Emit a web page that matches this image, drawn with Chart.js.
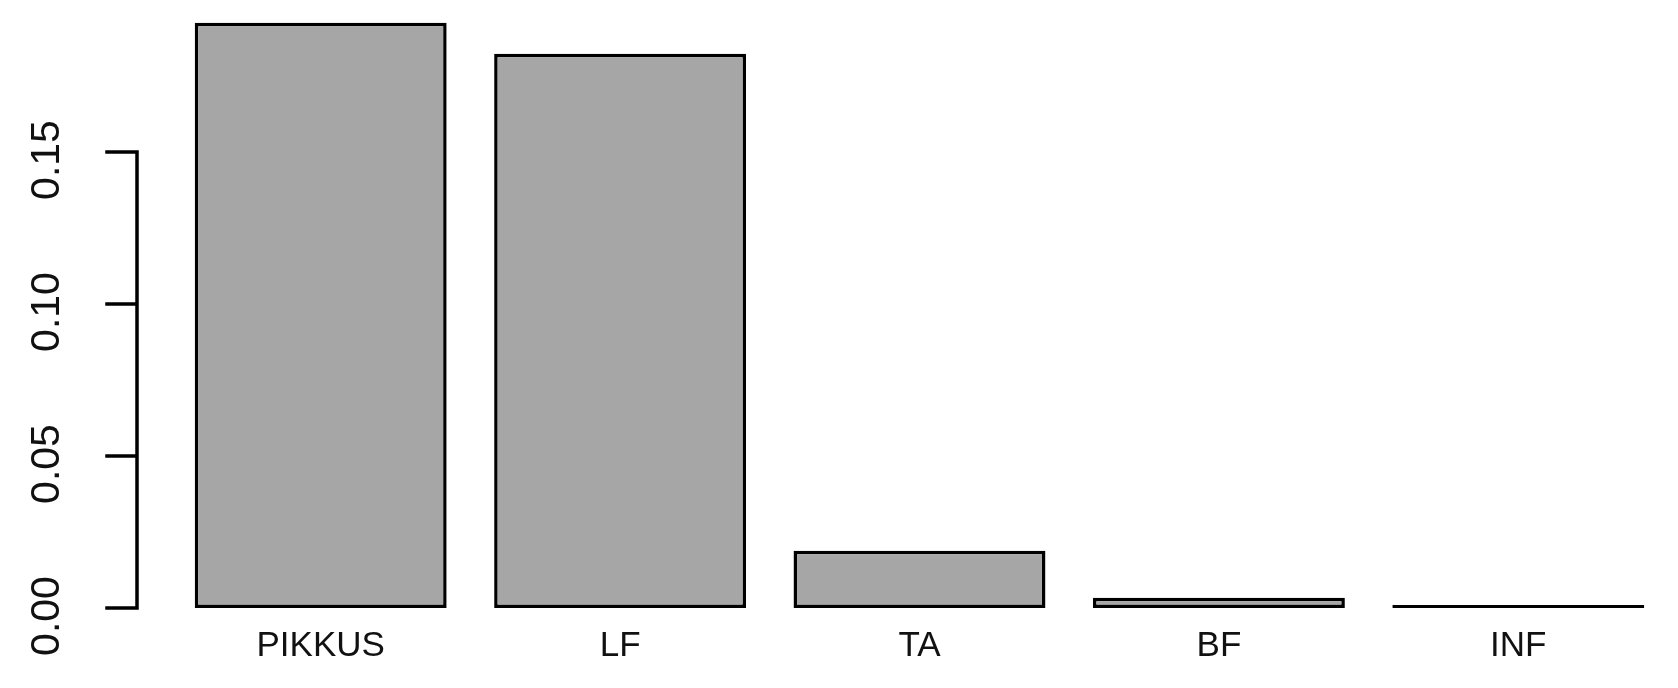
<!DOCTYPE html>
<html>
<head>
<meta charset="utf-8">
<title>Bar chart</title>
<script src="https://cdn.jsdelivr.net/npm/chart.js@4/dist/chart.umd.min.js"></script>
<style>
  html, body { margin: 0; padding: 0; background: #fff; }
  #chart { display: block; }
</style>
</head>
<body>
<canvas id="chart" width="1678" height="688"></canvas>
<script>
// Data
const categories = ['PIKKUS', 'LF', 'TA', 'BF', 'INF'];
const values = [0.1925, 0.1823, 0.0188, 0.0034, 0];
const yTicks = [0, 0.05, 0.10, 0.15];
const yTickLabels = ['0.00', '0.05', '0.10', '0.15'];

const FONT = '"Liberation Sans", Arial, sans-serif';

// R style left axis: line only spans the tick range, labels rotated
const rAxisPlugin = {
  id: 'rAxis',
  afterDraw(chart) {
    const ctx = chart.ctx;
    const y = chart.scales.y;
    const axisX = 137;
    const tickLen = 30;
    const top = y.getPixelForValue(yTicks[yTicks.length - 1]);
    const bottom = y.getPixelForValue(yTicks[0]);

    ctx.save();
    ctx.strokeStyle = '#000';
    ctx.lineWidth = 3.5;
    ctx.lineCap = 'square';
    ctx.beginPath();
    ctx.moveTo(axisX, top);
    ctx.lineTo(axisX, bottom);
    yTicks.forEach(v => {
      const py = y.getPixelForValue(v);
      ctx.moveTo(axisX - tickLen, py);
      ctx.lineTo(axisX, py);
    });
    ctx.stroke();

    ctx.fillStyle = '#111';
    ctx.font = `41px ${FONT}`;
    ctx.textAlign = 'center';
    ctx.textBaseline = 'alphabetic';
    yTicks.forEach((v, i) => {
      const py = y.getPixelForValue(v);
      ctx.save();
      ctx.translate(59, py + 8);
      ctx.rotate(-Math.PI / 2);
      ctx.fillText(yTickLabels[i], 0, 0);
      ctx.restore();
    });
    ctx.restore();
  }
};

new Chart(document.getElementById('chart'), {
  type: 'bar',
  data: {
    labels: categories,
    datasets: [{
      data: values,
      backgroundColor: '#a6a6a6',
      borderColor: '#000',
      borderWidth: 3.5,
      borderSkipped: false,
      minBarLength: 3,
      categoryPercentage: 1,
      barPercentage: 0.8414
    }]
  },
  options: {
    responsive: false,
    animation: false,
    devicePixelRatio: 1,
    layout: { padding: { left: 171, right: 10, top: 0, bottom: 4 } },
    plugins: {
      legend: { display: false },
      tooltip: { enabled: false }
    },
    scales: {
      x: {
        grid: { display: false, drawTicks: false },
        border: { display: false },
        ticks: {
          color: '#111',
          padding: 17,
          font: { family: FONT, size: 35 },
          maxRotation: 0
        }
      },
      y: {
        display: false,
        min: 0,
        max: 0.2
      }
    }
  },
  plugins: [rAxisPlugin]
});
</script>
</body>
</html>
